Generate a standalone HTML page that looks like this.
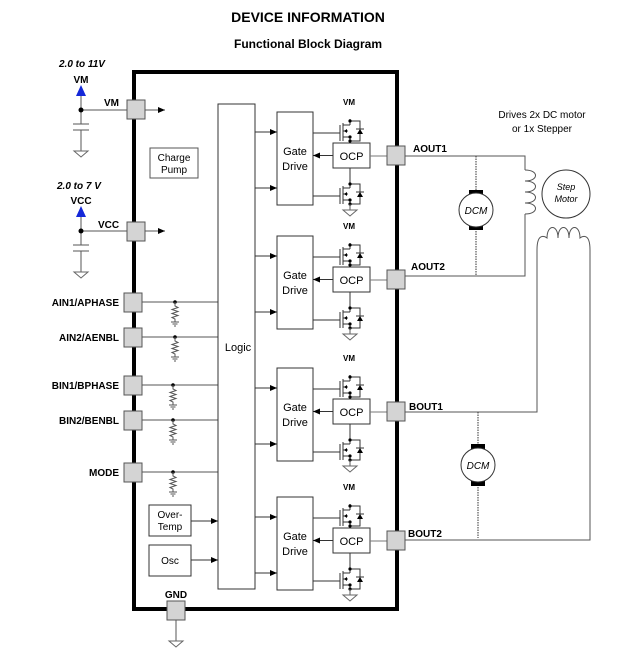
<!DOCTYPE html>
<html><head><meta charset="utf-8"><style>
html,body{margin:0;padding:0;background:#fff;}
svg{display:block;font-family:"Liberation Sans",Arial,sans-serif;}
</style></head><body>
<svg width="617" height="660" viewBox="0 0 617 660" xmlns="http://www.w3.org/2000/svg">
<defs>
<marker id="ar" markerWidth="8" markerHeight="8" refX="7" refY="4" orient="auto" markerUnits="userSpaceOnUse"><path d="M0,1 L7,4 L0,7 Z" fill="#000"/></marker>
<g id="gnd"><path d="M-7,0 L7,0 L0,6 Z" fill="#fff" stroke="#666" stroke-width="1"/></g>
<g id="res"><circle cx="0" cy="0" r="1.8" fill="#000"/><path d="M0,0 V4 l3,1.5 -6,2 6,2 -6,2 6,2 -6,2 3,1.5 V20" fill="none" stroke="#555" stroke-width="1"/><path d="M-4,20 H4 M-2.5,22 H2.5 M-1,24 H1" stroke="#555" stroke-width="1"/></g>
<g id="fet" fill="none" stroke="#333" stroke-width="1">
<path d="M340,6 V22 M343,4 V22 M343,6 H350 M343,18 H350 M343,12 H348"/>
<path d="M350,0 V6 M350,18 V24 M350,2 H360 V22 H350 M356,10 H364"/>
<path d="M357,15 L363,15 L360,10 Z" fill="#000" stroke="none"/>
<circle cx="350" cy="2" r="1.6" fill="#000" stroke="none"/><circle cx="350" cy="18" r="1.6" fill="#000" stroke="none"/><circle cx="350" cy="22" r="1.6" fill="#000" stroke="none"/>
<path d="M344,12 l3,-2 v4 z" fill="#000" stroke="none"/>
</g>
<g id="drvshape">
<rect x="277" y="0" width="36" height="93" fill="#fff" stroke="#333"/>
<line x1="255" y1="20" x2="277" y2="20" stroke="#333" marker-end="url(#ar)"/>
<line x1="255" y1="76" x2="277" y2="76" stroke="#333" marker-end="url(#ar)"/>
<rect x="333" y="31" width="37" height="25" fill="#fff" stroke="#333"/>
<line x1="333" y1="43.5" x2="313" y2="43.5" stroke="#333" marker-end="url(#ar)"/>
<line x1="370" y1="44" x2="387" y2="44" stroke="#777"/>
<line x1="313" y1="21" x2="340" y2="21" stroke="#333"/>
<line x1="313" y1="84" x2="340" y2="84" stroke="#333"/>
<use href="#fet" transform="translate(0,7)"/>
<line x1="350" y1="56" x2="350" y2="70" stroke="#333"/>
<use href="#fet" transform="translate(0,70)"/>
<line x1="350" y1="92" x2="350" y2="98" stroke="#555"/>
<use href="#gnd" transform="translate(350,98)"/>
<rect x="387" y="34" width="18" height="19" fill="#d4d4d4" stroke="#555"/>
</g>
</defs>

<text x="308" y="22" text-anchor="middle" font-size="14" font-weight="bold">DEVICE INFORMATION</text>
<text x="308" y="48" text-anchor="middle" font-size="12" font-weight="bold">Functional Block Diagram</text>

<rect x="134" y="72" width="263" height="537" fill="none" stroke="#000" stroke-width="4"/>

<text x="59" y="67" font-size="10" font-weight="bold" font-style="italic">2.0 to 11V</text>
<text x="81" y="83" text-anchor="middle" font-size="10" font-weight="bold">VM</text>
<path d="M81,85 L86,96 L76,96 Z" fill="#1428d8"/>
<path d="M81,96 V124 M73,124 H89 M73,130 H89 M81,130 V151 M81,110 H127" stroke="#555" fill="none"/>
<circle cx="81" cy="110" r="2.5" fill="#000"/>
<use href="#gnd" transform="translate(81,151)"/>
<text x="104" y="106" font-size="10" font-weight="bold">VM</text>
<rect x="127" y="100" width="18" height="19" fill="#d4d4d4" stroke="#555"/>
<line x1="145" y1="110" x2="165" y2="110" stroke="#555" marker-end="url(#ar)"/>

<rect x="150" y="148" width="48" height="30" fill="#fff" stroke="#555"/>
<text x="174" y="161" text-anchor="middle" font-size="10">Charge</text>
<text x="174" y="173" text-anchor="middle" font-size="10">Pump</text>

<text x="57" y="189" font-size="10" font-weight="bold" font-style="italic">2.0 to 7 V</text>
<text x="81" y="204" text-anchor="middle" font-size="10" font-weight="bold">VCC</text>
<path d="M81,206 L86,217 L76,217 Z" fill="#1428d8"/>
<path d="M81,217 V245 M73,245 H89 M73,251 H89 M81,251 V272 M81,231 H127" stroke="#555" fill="none"/>
<circle cx="81" cy="231" r="2.5" fill="#000"/>
<use href="#gnd" transform="translate(81,272)"/>
<text x="98" y="228" font-size="10" font-weight="bold">VCC</text>
<rect x="127" y="222" width="18" height="19" fill="#d4d4d4" stroke="#555"/>
<line x1="145" y1="231" x2="165" y2="231" stroke="#555" marker-end="url(#ar)"/>

<g font-size="10" font-weight="bold" text-anchor="end">
<text x="119" y="306">AIN1/APHASE</text>
<text x="119" y="341">AIN2/AENBL</text>
<text x="119" y="389">BIN1/BPHASE</text>
<text x="119" y="424">BIN2/BENBL</text>
<text x="119" y="476">MODE</text>
</g>
<g stroke="#555">
<line x1="142" y1="302" x2="218" y2="302"/>
<line x1="142" y1="337" x2="218" y2="337"/>
<line x1="142" y1="385" x2="218" y2="385"/>
<line x1="142" y1="420" x2="218" y2="420"/>
<line x1="142" y1="472" x2="218" y2="472"/>
</g>
<g fill="#d4d4d4" stroke="#555">
<rect x="124" y="293" width="18" height="19"/>
<rect x="124" y="328" width="18" height="19"/>
<rect x="124" y="376" width="18" height="19"/>
<rect x="124" y="411" width="18" height="19"/>
<rect x="124" y="463" width="18" height="19"/>
</g>
<use href="#res" transform="translate(175,302)"/>
<use href="#res" transform="translate(175,337)"/>
<use href="#res" transform="translate(173,385)"/>
<use href="#res" transform="translate(173,420)"/>
<use href="#res" transform="translate(173,472)"/>

<rect x="218" y="104" width="37" height="485" fill="none" stroke="#333"/>
<text x="238" y="351" text-anchor="middle" font-size="11">Logic</text>

<rect x="149" y="505" width="42" height="31" fill="#fff" stroke="#333"/>
<text x="170" y="518" text-anchor="middle" font-size="10">Over-</text>
<text x="170" y="530" text-anchor="middle" font-size="10">Temp</text>
<line x1="191" y1="521" x2="218" y2="521" stroke="#333" marker-end="url(#ar)"/>
<rect x="149" y="545" width="42" height="31" fill="#fff" stroke="#333"/>
<text x="170" y="564" text-anchor="middle" font-size="10">Osc</text>
<line x1="191" y1="560" x2="218" y2="560" stroke="#333" marker-end="url(#ar)"/>

<text x="176" y="598" text-anchor="middle" font-size="10" font-weight="bold">GND</text>
<rect x="167" y="601" width="18" height="19" fill="#d4d4d4" stroke="#555"/>
<line x1="176" y1="620" x2="176" y2="641" stroke="#555"/>
<use href="#gnd" transform="translate(176,641)"/>

<g transform="translate(0,112)"><use href="#drvshape"/><text x="295" y="43" text-anchor="middle" font-size="11">Gate</text><text x="295" y="58" text-anchor="middle" font-size="11">Drive</text><text x="351.5" y="48" text-anchor="middle" font-size="11">OCP</text><text x="349" y="-7" text-anchor="middle" font-size="8" font-weight="bold">VM</text></g>
<g transform="translate(0,236)"><use href="#drvshape"/><text x="295" y="43" text-anchor="middle" font-size="11">Gate</text><text x="295" y="58" text-anchor="middle" font-size="11">Drive</text><text x="351.5" y="48" text-anchor="middle" font-size="11">OCP</text><text x="349" y="-7" text-anchor="middle" font-size="8" font-weight="bold">VM</text></g>
<g transform="translate(0,368)"><use href="#drvshape"/><text x="295" y="43" text-anchor="middle" font-size="11">Gate</text><text x="295" y="58" text-anchor="middle" font-size="11">Drive</text><text x="351.5" y="48" text-anchor="middle" font-size="11">OCP</text><text x="349" y="-7" text-anchor="middle" font-size="8" font-weight="bold">VM</text></g>
<g transform="translate(0,497)"><use href="#drvshape"/><text x="295" y="43" text-anchor="middle" font-size="11">Gate</text><text x="295" y="58" text-anchor="middle" font-size="11">Drive</text><text x="351.5" y="48" text-anchor="middle" font-size="11">OCP</text><text x="349" y="-7" text-anchor="middle" font-size="8" font-weight="bold">VM</text></g>

<g font-size="10" font-weight="bold">
<text x="413" y="152">AOUT1</text>
<text x="411" y="270">AOUT2</text>
<text x="409" y="410">BOUT1</text>
<text x="408" y="537">BOUT2</text>
</g>

<g stroke="#555" fill="none">
<path d="M405,156 H525 V170"/>
<path d="M525,214 V276 H405"/>
<path d="M525,170 c14,0 14,11 0,11 c14,0 14,11 0,11 c14,0 14,11 0,11 c14,0 14,11 0,11"/>
<path d="M405,412 H537 V250"/>
<path d="M537,250 c0,-20 10,-12 10,-12 c0,-14 11,-14 11,0 c0,-14 11,-14 11,0 c0,-14 11,-14 11,0 c0,0 10,-8 10,12 V540 H405"/>
</g>
<g stroke="#333" stroke-dasharray="1.5,1">
<line x1="476" y1="156" x2="476" y2="276"/>
<line x1="478" y1="412" x2="478" y2="538"/>
</g>
<rect x="469" y="190" width="14" height="8" fill="#000"/>
<rect x="469" y="222" width="14" height="8" fill="#000"/>
<circle cx="476" cy="210" r="17" fill="#fff" stroke="#333"/>
<text x="476" y="214" text-anchor="middle" font-size="10" font-style="italic">DCM</text>
<rect x="471" y="444" width="14" height="8" fill="#000"/>
<rect x="471" y="478" width="14" height="8" fill="#000"/>
<circle cx="478" cy="465" r="17" fill="#fff" stroke="#333"/>
<text x="478" y="469" text-anchor="middle" font-size="10" font-style="italic">DCM</text>
<circle cx="566" cy="194" r="24" fill="#fff" stroke="#333"/>
<text x="566" y="190" text-anchor="middle" font-size="9" font-style="italic">Step</text>
<text x="566" y="202" text-anchor="middle" font-size="9" font-style="italic">Motor</text>
<text x="542" y="118" text-anchor="middle" font-size="10">Drives 2x DC motor</text>
<text x="542" y="132" text-anchor="middle" font-size="10">or 1x Stepper</text>
</svg>
</body></html>
